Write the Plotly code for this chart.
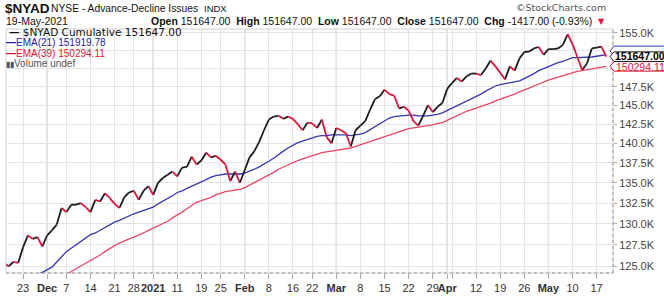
import math
import pandas as pd
import plotly.graph_objects as go

# ---------------- data ----------------
holidays = ["2020-11-26", "2020-12-25", "2021-01-01", "2021-01-18", "2021-02-15", "2021-04-02"]
dates = [d.strftime("%Y-%m-%d") for d in pd.bdate_range("2020-11-17", "2021-05-19")
         if d.strftime("%Y-%m-%d") not in holidays]

# $NYAD cumulative close (thousands)
close = [
    125.4, 125.0, 125.5, 125.4, 127.2, 128.6, 128.2, 128.4, 127.3, 128.6,
    129.2, 129.9, 131.9, 131.4, 132.3, 132.3, 132.5, 132.0, 131.4, 132.9,
    132.7, 133.7, 133.1, 132.4, 131.9, 133.2, 133.8, 134.0, 132.9, 134.0,
    134.6, 133.5, 135.0, 135.6, 136.0, 136.4, 135.8, 136.9, 137.0, 138.3,
    137.3, 137.8, 138.8, 138.2, 138.4, 137.9, 137.3, 135.2, 136.4, 135.0,
    136.6, 138.2, 139.0, 140.2, 141.7, 143.1, 143.5, 143.6, 143.2, 143.5,
    143.2, 142.5, 141.7, 142.7, 142.6, 142.0, 143.1, 140.8, 140.0, 142.0,
    141.7, 141.3, 139.6, 141.7, 142.3, 142.9, 144.4, 145.8, 146.2, 147.1,
    146.5, 146.3, 144.6, 144.8, 144.3, 142.9, 142.3, 143.6, 145.0, 144.1,
    144.8, 145.3, 147.2, 148.0, 148.7, 148.2, 148.9, 149.3, 149.3, 149.1,
    150.0, 151.1, 150.3, 149.4, 148.5, 150.3, 149.7, 151.4, 152.3, 152.35,
    152.8, 153.0, 151.9, 152.7, 152.7, 152.8, 153.3, 154.8, 153.4, 151.6,
    149.8, 150.7, 152.8, 152.9, 153.064, 151.647,
]

ema21 = [
    121.6, 122.0, 122.4, 122.8, 123.1, 123.5, 123.8, 124.0, 124.3, 124.6,
    124.9, 125.5, 126.1, 126.7, 127.1, 127.5, 127.9, 128.4, 128.7, 128.9,
    129.2, 129.5, 129.9, 130.2, 130.4, 130.7, 131.0, 131.2, 131.4, 131.6,
    131.8, 132.0, 132.4, 132.7, 133.1, 133.4, 133.8, 134.0, 134.3, 134.6,
    134.8, 135.1, 135.4, 135.7, 135.9, 136.0, 136.1, 136.1, 136.1, 136.1,
    136.2, 136.4, 136.7, 137.0, 137.3, 137.7, 138.1, 138.6, 139.0, 139.4,
    139.8, 140.1, 140.3, 140.5, 140.7, 140.9, 141.0, 141.0, 141.1, 141.1,
    141.1, 141.1, 141.0, 141.1, 141.2, 141.4, 141.8, 142.2, 142.6, 143.0,
    143.3, 143.5, 143.6, 143.7, 143.7, 143.7, 143.6, 143.6, 143.6, 143.7,
    143.8, 144.0, 144.3, 144.6, 144.9, 145.2, 145.5, 145.8, 146.1, 146.5,
    146.9, 147.3, 147.6, 147.8, 147.9, 148.0, 148.1, 148.3, 148.6, 148.9,
    149.3, 149.7, 150.0, 150.3, 150.6, 150.8, 151.0, 151.3, 151.5, 151.5,
    151.5, 151.6, 151.6, 151.7, 151.8, 151.91978,
]

ema39 = [
    119.8, 120.1, 120.5, 120.8, 121.1, 121.4, 121.8, 122.1, 122.4, 122.7,
    123.1, 123.4, 123.7, 124.0, 124.4, 124.7, 125.0, 125.3, 125.6, 125.9,
    126.3, 126.7, 127.1, 127.4, 127.7, 128.0, 128.2, 128.4, 128.7, 128.9,
    129.2, 129.45, 129.7, 130.0, 130.3, 130.7, 131.0, 131.4, 131.8, 132.2,
    132.6, 132.8, 133.0, 133.2, 133.5, 133.7, 133.9, 134.0, 134.1, 134.2,
    134.4, 134.7, 135.0, 135.3, 135.7, 136.0, 136.3, 136.7, 137.0, 137.3,
    137.6, 137.8, 138.0, 138.2, 138.4, 138.6, 138.8, 138.9, 139.0, 139.1,
    139.2, 139.3, 139.4, 139.6, 139.8, 140.0, 140.3, 140.5, 140.7, 140.9,
    141.1, 141.3, 141.5, 141.7, 141.9, 142.0, 142.1, 142.2, 142.3, 142.4,
    142.6, 142.7, 143.0, 143.3, 143.6, 143.9, 144.2, 144.4, 144.6, 144.9,
    145.1, 145.3, 145.6, 145.8, 146.0, 146.3, 146.5, 146.8, 147.0, 147.3,
    147.6, 147.9, 148.1, 148.4, 148.6, 148.8, 149.1, 149.3, 149.5, 149.6,
    149.7, 149.8, 149.9, 150.0, 150.15, 150.29411,
]

tick_dates = ["2020-11-23", "2020-12-01", "2020-12-07", "2020-12-14", "2020-12-21", "2020-12-28",
              "2021-01-04", "2021-01-11", "2021-01-19", "2021-01-25", "2021-02-01", "2021-02-08",
              "2021-02-16", "2021-02-22", "2021-03-01", "2021-03-08", "2021-03-15", "2021-03-22",
              "2021-03-29", "2021-04-01", "2021-04-05", "2021-04-12", "2021-04-19", "2021-04-26",
              "2021-05-03", "2021-05-10", "2021-05-17"]
tick_labels = ["23", "<b>Dec</b>", "7", "14", "21", "28", "<b>2021</b>", "11", "19", "25",
               "<b>Feb</b>", "8", "16", "22", "<b>Mar</b>", "8", "15", "22", "29", "<b>Apr</b>", "",
               "12", "19", "26", "<b>May</b>", "10", "17"]
month_dates = ["2020-12-01", "2021-01-04", "2021-02-01", "2021-03-01", "2021-04-01", "2021-05-03"]

y_ticks = [125.0, 127.5, 130.0, 132.5, 135.0, 137.5, 140.0, 142.5, 145.0, 147.5, 150.0, 152.5, 155.0]
# labels 150.0K and 152.5K sit under the value tags in the original, so they are left blank
y_labels = ["%.1fK" % v if v not in (150.0, 152.5) else "" for v in y_ticks]

assert len(dates) == len(close) == len(ema21) == len(ema39)

# ---------------- geometry helpers ----------------
W, H = 664, 300
PL, PR, PT, PB = 6, 613, 29, 284
Y_LO, Y_HI = math.log10(124.23), math.log10(155.56)
X_LO, X_HI = 0.47, 126.4


def px(xpix):
    return (xpix - PL) / (PR - PL)


def py(ypix):
    return (PB - ypix) / (PB - PT)


def val2pix(v):
    return PB - (math.log10(v) - Y_LO) / (Y_HI - Y_LO) * (PB - PT)


RED = "#dc143c"
BLACK = "#1c1c1c"
BLUE = "#3636ad"
PINK = "#e54664"

fig = go.Figure()

# up / down coloured close line
ux, uy, dx, dy = [], [], [], []
for i in range(1, len(close)):
    if close[i] >= close[i - 1]:
        ux += [dates[i - 1], dates[i], None]
        uy += [close[i - 1], close[i], None]
    else:
        dx += [dates[i - 1], dates[i], None]
        dy += [close[i - 1], close[i], None]

fig.add_trace(go.Scatter(x=dates, y=ema39, mode="lines", line=dict(color=PINK, width=1.3), hoverinfo="skip"))
fig.add_trace(go.Scatter(x=dates, y=ema21, mode="lines", line=dict(color=BLUE, width=1.3), hoverinfo="skip"))
fig.add_trace(go.Scatter(x=ux, y=uy, mode="lines", line=dict(color=BLACK, width=1.8), connectgaps=False, hoverinfo="skip"))
fig.add_trace(go.Scatter(x=dx, y=dy, mode="lines", line=dict(color=RED, width=1.8), connectgaps=False, hoverinfo="skip"))

shapes = []
# darker month grid lines
for m in month_dates:
    shapes.append(dict(type="line", xref="x", yref="paper", x0=dates.index(m), x1=dates.index(m),
                       y0=0, y1=1, line=dict(color="#c4c4c4", width=1.2), layer="below"))
# plot frame
shapes.append(dict(type="rect", xref="paper", yref="paper", x0=0, x1=1, y0=0, y1=1,
                   line=dict(color="#d0d0d0", width=1), layer="below"))
shapes.append(dict(type="line", xref="paper", yref="paper", x0=1, x1=1, y0=0, y1=1,
                   line=dict(color="#999999", width=1, dash="dot")))
shapes.append(dict(type="line", xref="paper", yref="paper", x0=0, x1=1, y0=0, y1=0,
                   line=dict(color="#999999", width=1, dash="dot")))


def tag_path(cy, h=10):
    x0, x1, x2 = px(610), px(614), px(672)
    yt, yb, yc = py(cy - h / 2), py(cy + h / 2), py(cy)
    return f"M {x0},{yc} L {x1},{yt} L {x2},{yt} L {x2},{yb} L {x1},{yb} Z"


cy_close = val2pix(close[-1])
cy_e39 = val2pix(ema39[-1])
cy_e21 = cy_close - 6
for cy, col in [(cy_e21, BLUE), (cy_e39, RED), (cy_close, BLACK)]:
    shapes.append(dict(type="path", xref="paper", yref="paper", path=tag_path(cy),
                       fillcolor="white", line=dict(color=col, width=1)))

ann = []
ann.append(dict(x=px(614), y=py(cy_e39 + 0.5), xref="paper", yref="paper", xanchor="left", yanchor="middle",
                text="%.2f" % (ema39[-1] * 1000), showarrow=False,
                font=dict(family="Liberation Sans", size=10.5, color=RED)))
ann.append(dict(x=px(613), y=py(cy_close - 0.5), xref="paper", yref="paper", xanchor="left", yanchor="middle",
                text="<b>%.2f</b>" % (close[-1] * 1000), showarrow=False,
                font=dict(family="Liberation Sans", size=10.5, color="#000")))

# header
ann.append(dict(x=px(3), y=py(8), xref="paper", yref="paper", xanchor="left", yanchor="middle",
                text="<b>$NYAD</b>", showarrow=False,
                font=dict(family="Liberation Sans", size=13.5, color="#111")))
ann.append(dict(x=px(49), y=py(8), xref="paper", yref="paper", xanchor="left", yanchor="middle",
                text="NYSE - Advance-Decline Issues", showarrow=False,
                font=dict(family="Liberation Sans", size=10.3, color="#111")))
ann.append(dict(x=px(202), y=py(8), xref="paper", yref="paper", xanchor="left", yanchor="middle",
                text="INDX", showarrow=False,
                font=dict(family="Liberation Sans", size=9.5, color="#111")))
ann.append(dict(x=px(608), y=py(7), xref="paper", yref="paper", xanchor="right", yanchor="middle",
                text="©StockCharts.com", showarrow=False,
                font=dict(family="DejaVu Sans", size=9.5, color="#555")))
ann.append(dict(x=px(4), y=py(21), xref="paper", yref="paper", xanchor="left", yanchor="middle",
                text="19-May-2021", showarrow=False,
                font=dict(family="Liberation Sans", size=10.5, color="#111")))
chg = close[-1] - close[-2]
pct = chg / close[-2] * 100
ohlc = ("<b>Open</b> %.2f  <b>High</b> %.2f  <b>Low</b> %.2f  <b>Close</b> %.2f  <b>Chg</b> %.2f (%.2f%%)"
        % (close[-1] * 1000, close[-1] * 1000, close[-1] * 1000, close[-1] * 1000, chg * 1000, pct))
ann.append(dict(x=px(594), y=py(21), xref="paper", yref="paper", xanchor="right", yanchor="middle",
                text=ohlc, showarrow=False, font=dict(family="Liberation Sans", size=10.5, color="#111")))
ann.append(dict(x=px(596), y=py(21), xref="paper", yref="paper", xanchor="left", yanchor="middle",
                text="▼", showarrow=False, font=dict(family="DejaVu Sans", size=8, color=RED)))

# legend block
ann.append(dict(x=px(7), y=py(32.5), xref="paper", yref="paper", xanchor="left", yanchor="middle",
                text="<b>—</b> $NYAD Cumulative %.2f" % (close[-1] * 1000), showarrow=False,
                font=dict(family="DejaVu Sans", size=10.5, color="#111")))
ann.append(dict(x=px(4), y=py(43.5), xref="paper", yref="paper", xanchor="left", yanchor="middle",
                text="<b>—</b>EMA(21) %.2f" % (ema21[-1] * 1000), showarrow=False,
                font=dict(family="Liberation Sans", size=10, color="#1e1e9a")))
ann.append(dict(x=px(4), y=py(54.5), xref="paper", yref="paper", xanchor="left", yanchor="middle",
                text="<b>—</b>EMA(39) %.2f" % (ema39[-1] * 1000), showarrow=False,
                font=dict(family="Liberation Sans", size=10, color=RED)))
ann.append(dict(x=px(4), y=py(65.5), xref="paper", yref="paper", xanchor="left", yanchor="middle",
                text="<span style='font-size:8px'>▮▮</span>Volume undef", showarrow=False,
                font=dict(family="Liberation Sans", size=10, color="#555")))

fig.update_layout(
    width=W, height=H,
    margin=dict(l=PL, r=W - PR, t=PT, b=H - PB, pad=0),
    paper_bgcolor="white", plot_bgcolor="white",
    showlegend=False,
    shapes=shapes, annotations=ann,
    xaxis=dict(type="category", range=[X_LO, X_HI], tickmode="array",
               tickvals=tick_dates, ticktext=tick_labels, showgrid=True, gridcolor="#e3e3e3",
               gridwidth=1, ticks="outside", ticklen=5, tickcolor="#aaaaaa", zeroline=False,
               showline=False, tickangle=0,
               tickfont=dict(family="Liberation Sans", size=11, color="#333")),
    yaxis=dict(type="log", side="right", range=[Y_LO, Y_HI], tickmode="array",
               tickvals=y_ticks, ticktext=y_labels, showgrid=True, gridcolor="#e3e3e3",
               ticks="outside", ticklen=3, tickcolor="#aaaaaa", zeroline=False, showline=False,
               tickfont=dict(family="Liberation Sans", size=11, color="#444")),
)

fig.write_html("out.html")
